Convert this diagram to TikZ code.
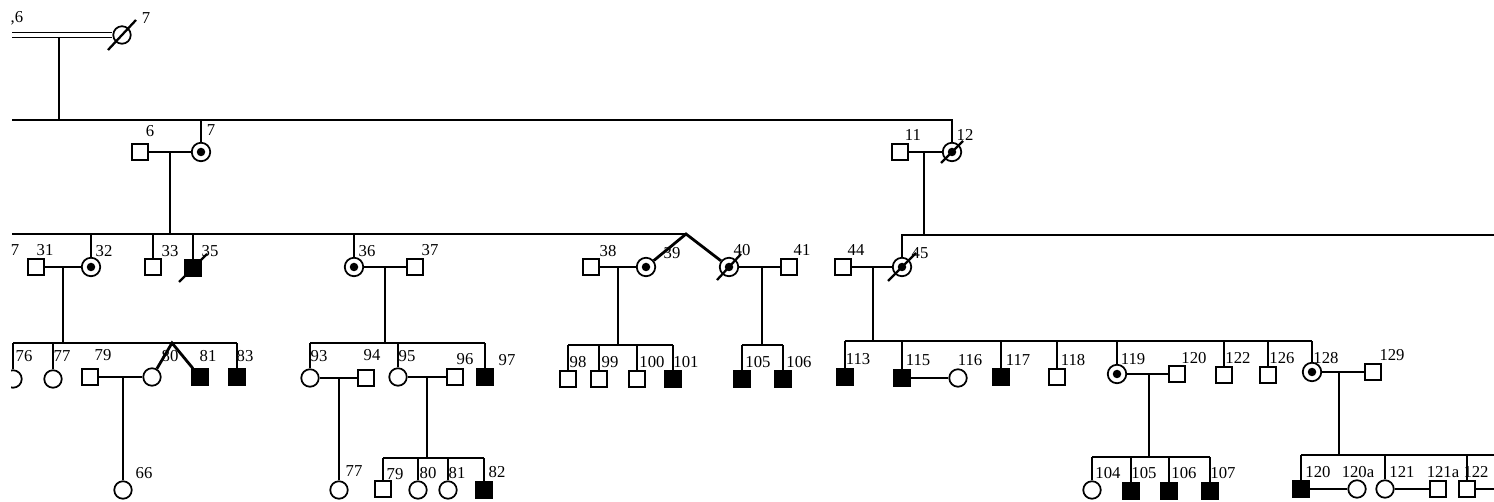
\documentclass[tikz,border=0pt]{standalone}
\usepackage{fontspec}
\setmainfont{Liberation Serif}
\begin{document}
\begin{tikzpicture}[x=0.02cm,y=-0.02cm,line width=1.1pt,
    male/.style={draw,line width=1pt,minimum size=0.31cm,inner sep=0pt,fill=white},
    female/.style={draw,circle,line width=1pt,minimum size=0.35cm,inner sep=0pt,fill=white},
    affected/.style={fill=black},
    carrier/.style={minimum size=0.37cm,path picture={\fill[black] (path picture bounding box.center) circle (0.085cm);}},
    lbl/.style={font=\fontsize{9.5}{10}\selectfont,inner sep=0pt},
    slash/.style={line width=1.3pt},
    twin/.style={line width=1.6pt}]
  \useasboundingbox (0,0) rectangle (1494,502);
  \clip (11,0) rectangle (1494,502);
  % generation I
  \node[female] (g1p7) at (122,35) {};
  \draw[slash] (g1p7.center) ++(-14,15) -- ++(28,-30);
  \node[lbl] (t1p6) at (17,18) {,6};
  \node[lbl] (t1p7) at (146,18) {7};
  \coordinate (g1left) at (12,35);
  \draw[double,double distance=2.2pt,line width=0.8pt] (g1left) -- (g1p7);
  \coordinate (g1drop) at (59,37);
  \coordinate (g2sib) at (12,120);
  \draw (g1drop) -- (g1drop |- g2sib);
  % generation II
  \node[male] (g2p6) at (140,152) {};
  \node[female,carrier] (g2p7) at (201,152) {};
  \node[male] (g2p11) at (900,152) {};
  \node[female,carrier] (g2p12) at (952,152) {};
  \draw[slash] (g2p12.center) ++(-11,11) -- ++(22,-22);
  \node[lbl] (t2p6) at (150,131) {6};
  \node[lbl] (t2p7) at (211,130) {7};
  \node[lbl] (t2p11) at (913,135) {11};
  \node[lbl] (t2p12) at (965,135) {12};
  \draw (g2sib) -- (g2sib -| g2p12) -- (g2p12.north);
  \draw (g2p7.north) -- (g2p7.north |- g2sib);
  \draw (g2p6) -- (g2p7);
  \draw (g2p11) -- (g2p12);
  \coordinate (g2m6) at (170,152);
  \coordinate (g2m11) at (924,152);
  \coordinate (g3sibA) at (12,234);
  \coordinate (g3twin) at (686,234);
  \coordinate (g3sibB) at (1494,235);
  \draw (g2m6) -- (g2m6 |- g3sibA);
  \draw (g2m11) -- (g2m11 |- g3sibB);
  % generation III
  \node[male] (g3p31) at (36,267) {};
  \node[female,carrier] (g3p32) at (91,267) {};
  \node[male] (g3p33) at (153,267) {};
  \node[male,affected] (g3p35) at (193,268) {};
  \draw[slash] (g3p35.center) ++(-14,14) -- ++(28,-28);
  \node[female,carrier] (g3p36) at (354,267) {};
  \node[male] (g3p37) at (415,267) {};
  \node[male] (g3p38) at (591,267) {};
  \node[female,carrier] (g3p39) at (646,267) {};
  \node[female,carrier] (g3p40) at (729,267) {};
  \draw[slash] (g3p40.center) ++(-12,13) -- ++(24,-26);
  \node[male] (g3p41) at (789,267) {};
  \node[male] (g3p44) at (843,267) {};
  \node[female,carrier] (g3p45) at (902,267) {};
  \draw[slash] (g3p45.center) ++(-14,14) -- ++(28,-28);
  \node[lbl] (t3p27) at (15,250) {7};
  \node[lbl] (t3p31) at (45,250) {31};
  \node[lbl] (t3p32) at (104,251) {32};
  \node[lbl] (t3p33) at (170,251) {33};
  \node[lbl] (t3p35) at (210,251) {35};
  \node[lbl] (t3p36) at (367,251) {36};
  \node[lbl] (t3p37) at (430,250) {37};
  \node[lbl] (t3p38) at (608,251) {38};
  \node[lbl] (t3p39) at (672,253) {39};
  \node[lbl] (t3p40) at (742,250) {40};
  \node[lbl] (t3p41) at (802,250) {41};
  \node[lbl] (t3p44) at (856,250) {44};
  \node[lbl] (t3p45) at (920,253) {45};
  \draw (g3sibA) -- (g3twin);
  \draw[twin] (g3p39) -- (g3twin) -- (g3p40);
  \draw (g3p45.north) -- (g3p45.north |- g3sibB) -- (g3sibB);
  \draw (g3p32.north) -- (g3p32.north |- g3sibA);
  \draw (g3p33.north) -- (g3p33.north |- g3sibA);
  \draw (g3p35.north) -- (g3p35.north |- g3sibA);
  \draw (g3p36.north) -- (g3p36.north |- g3sibA);
  \draw (g3p31) -- (g3p32);
  \draw (g3p36) -- (g3p37);
  \draw (g3p38) -- (g3p39);
  \draw (g3p40) -- (g3p41);
  \draw (g3p44) -- (g3p45);
  \coordinate (g3m31) at (63,267);
  \coordinate (g3m36) at (385,267);
  \coordinate (g3m38) at (618,267);
  \coordinate (g3m40) at (762,267);
  \coordinate (g3m44) at (873,267);
  \coordinate (g4sibA) at (13,343);
  \coordinate (g4twin) at (172,343);
  \coordinate (g4sibB) at (310,343);
  \coordinate (g4sibC) at (568,345);
  \coordinate (g4sibD) at (742,345);
  \coordinate (g4sibE) at (845,341);
  \draw (g3m31) -- (g3m31 |- g4sibA);
  \draw (g3m36) -- (g3m36 |- g4sibB);
  \draw (g3m38) -- (g3m38 |- g4sibC);
  \draw (g3m40) -- (g3m40 |- g4sibD);
  \draw (g3m44) -- (g3m44 |- g4sibE);
  % generation IV
  \node[female] (g4p76) at (13,379) {};
  \node[female] (g4p77) at (53,379) {};
  \node[male] (g4p79) at (90,377) {};
  \node[female] (g4p80) at (152,377) {};
  \node[male,affected] (g4p81) at (200,377) {};
  \node[male,affected] (g4p83) at (237,377) {};
  \node[female] (g4p93) at (310,378) {};
  \node[male] (g4p94) at (366,378) {};
  \node[female] (g4p95) at (398,377) {};
  \node[male] (g4p96) at (455,377) {};
  \node[male,affected] (g4p97) at (485,377) {};
  \node[male] (g4p98) at (568,379) {};
  \node[male] (g4p99) at (599,379) {};
  \node[male] (g4p100) at (637,379) {};
  \node[male,affected] (g4p101) at (673,379) {};
  \node[male,affected] (g4p105) at (742,379) {};
  \node[male,affected] (g4p106) at (783,379) {};
  \node[male,affected] (g4p113) at (845,377) {};
  \node[male,affected] (g4p115) at (902,378) {};
  \node[female] (g4p116) at (958,378) {};
  \node[male,affected] (g4p117) at (1001,377) {};
  \node[male] (g4p118) at (1057,377) {};
  \node[female,carrier] (g4p119) at (1117,374) {};
  \node[male] (g4p120) at (1177,374) {};
  \node[male] (g4p122) at (1224,375) {};
  \node[male] (g4p126) at (1268,375) {};
  \node[female,carrier] (g4p128) at (1312,372) {};
  \node[male] (g4p129) at (1373,372) {};
  \node[lbl] (t4p76) at (24,356) {76};
  \node[lbl] (t4p77) at (62,356) {77};
  \node[lbl] (t4p79) at (103,355) {79};
  \node[lbl] (t4p80) at (170,356) {80};
  \node[lbl] (t4p81) at (208,356) {81};
  \node[lbl] (t4p83) at (245,356) {83};
  \node[lbl] (t4p93) at (319,356) {93};
  \node[lbl] (t4p94) at (372,355) {94};
  \node[lbl] (t4p95) at (407,356) {95};
  \node[lbl] (t4p96) at (465,359) {96};
  \node[lbl] (t4p97) at (507,360) {97};
  \node[lbl] (t4p98) at (578,362) {98};
  \node[lbl] (t4p99) at (610,362) {99};
  \node[lbl] (t4p100) at (652,362) {100};
  \node[lbl] (t4p101) at (686,362) {101};
  \node[lbl] (t4p105) at (758,362) {105};
  \node[lbl] (t4p106) at (799,362) {106};
  \node[lbl] (t4p113) at (858,359) {113};
  \node[lbl] (t4p115) at (918,360) {115};
  \node[lbl] (t4p116) at (970,360) {116};
  \node[lbl] (t4p117) at (1018,360) {117};
  \node[lbl] (t4p118) at (1073,360) {118};
  \node[lbl] (t4p119) at (1133,359) {119};
  \node[lbl] (t4p120) at (1194,358) {120};
  \node[lbl] (t4p122) at (1238,358) {122};
  \node[lbl] (t4p126) at (1282,358) {126};
  \node[lbl] (t4p128) at (1326,358) {128};
  \node[lbl] (t4p129) at (1392,355) {129};
  \draw (g4sibA) -- (g4sibA -| g4p83);
  \draw[twin] (g4p80) -- (g4twin) -- (g4p81);
  \draw (g4p76.north) -- (g4p76.north |- g4sibA);
  \draw (g4p77.north) -- (g4p77.north |- g4sibA);
  \draw (g4p83.north) -- (g4p83.north |- g4sibA);
  \draw (g4sibB) -- (g4sibB -| g4p97);
  \draw (g4p93.north) -- (g4p93.north |- g4sibB);
  \draw (g4p95.north) -- (g4p95.north |- g4sibB);
  \draw (g4p97.north) -- (g4p97.north |- g4sibB);
  \draw (g4sibC) -- (g4sibC -| g4p101);
  \draw (g4p98.north) -- (g4p98.north |- g4sibC);
  \draw (g4p99.north) -- (g4p99.north |- g4sibC);
  \draw (g4p100.north) -- (g4p100.north |- g4sibC);
  \draw (g4p101.north) -- (g4p101.north |- g4sibC);
  \draw (g4sibD) -- (g4sibD -| g4p106);
  \draw (g4p105.north) -- (g4p105.north |- g4sibD);
  \draw (g4p106.north) -- (g4p106.north |- g4sibD);
  \draw (g4sibE) -- (g4sibE -| g4p128);
  \draw (g4p113.north) -- (g4p113.north |- g4sibE);
  \draw (g4p115.north) -- (g4p115.north |- g4sibE);
  \draw (g4p117.north) -- (g4p117.north |- g4sibE);
  \draw (g4p118.north) -- (g4p118.north |- g4sibE);
  \draw (g4p119.north) -- (g4p119.north |- g4sibE);
  \draw (g4p122.north) -- (g4p122.north |- g4sibE);
  \draw (g4p126.north) -- (g4p126.north |- g4sibE);
  \draw (g4p128.north) -- (g4p128.north |- g4sibE);
  \draw (g4p79) -- (g4p80);
  \draw (g4p93) -- (g4p94);
  \draw (g4p95) -- (g4p96);
  \draw (g4p115) -- (g4p116);
  \draw (g4p119) -- (g4p120);
  \draw (g4p128) -- (g4p129);
  \coordinate (g4m79) at (123,377);
  \coordinate (g4m93) at (339,378);
  \coordinate (g4m95) at (427,377);
  \coordinate (g4m119) at (1149,374);
  \coordinate (g4m128) at (1339,372);
  \coordinate (g5sibB) at (383,458);
  \coordinate (g5sibF) at (1092,457);
  \coordinate (g5sibG) at (1301,455);
  \coordinate (g5sibGend) at (1494,455);
  \draw (g4m95) -- (g4m95 |- g5sibB);
  \draw (g4m119) -- (g4m119 |- g5sibF);
  \draw (g4m128) -- (g4m128 |- g5sibG);
  % generation V
  \node[female] (g5p66) at (123,490) {};
  \node[female] (g5p77) at (339,490) {};
  \node[male] (g5p79) at (383,489) {};
  \node[female] (g5p80) at (418,490) {};
  \node[female] (g5p81) at (448,490) {};
  \node[male,affected] (g5p82) at (484,490) {};
  \node[female] (g5p104) at (1092,490) {};
  \node[male,affected] (g5p105) at (1131,491) {};
  \node[male,affected] (g5p106) at (1169,491) {};
  \node[male,affected] (g5p107) at (1210,491) {};
  \node[male,affected] (g5p120) at (1301,489) {};
  \node[female] (g5p120a) at (1357,489) {};
  \node[female] (g5p121) at (1385,489) {};
  \node[male] (g5p121a) at (1438,489) {};
  \node[male] (g5p122) at (1467,489) {};
  \coordinate (g5edge) at (1494,489);
  \node[lbl] (t5p66) at (144,473) {66};
  \node[lbl] (t5p77) at (354,471) {77};
  \node[lbl] (t5p79) at (395,474) {79};
  \node[lbl] (t5p80) at (428,473) {80};
  \node[lbl] (t5p81) at (457,473) {81};
  \node[lbl] (t5p82) at (497,472) {82};
  \node[lbl] (t5p104) at (1108,473) {104};
  \node[lbl] (t5p105) at (1144,473) {105};
  \node[lbl] (t5p106) at (1184,473) {106};
  \node[lbl] (t5p107) at (1223,473) {107};
  \node[lbl] (t5p120) at (1318,472) {120};
  \node[lbl] (t5p120a) at (1358,472) {120a};
  \node[lbl] (t5p121) at (1402,472) {121};
  \node[lbl] (t5p121a) at (1443,472) {121a};
  \node[lbl] (t5p122) at (1476,472) {122};
  \draw (g4m79) -- (g5p66);
  \draw (g4m93) -- (g5p77);
  \draw (g5sibB) -- (g5sibB -| g5p82);
  \draw (g5p79.north) -- (g5p79.north |- g5sibB);
  \draw (g5p80.north) -- (g5p80.north |- g5sibB);
  \draw (g5p81.north) -- (g5p81.north |- g5sibB);
  \draw (g5p82.north) -- (g5p82.north |- g5sibB);
  \draw (g5sibF) -- (g5sibF -| g5p107);
  \draw (g5p104.north) -- (g5p104.north |- g5sibF);
  \draw (g5p105.north) -- (g5p105.north |- g5sibF);
  \draw (g5p106.north) -- (g5p106.north |- g5sibF);
  \draw (g5p107.north) -- (g5p107.north |- g5sibF);
  \draw (g5sibG) -- (g5sibGend);
  \draw (g5p120.north) -- (g5p120.north |- g5sibG);
  \draw (g5p121.north) -- (g5p121.north |- g5sibG);
  \draw (g5p122.north) -- (g5p122.north |- g5sibG);
  \draw (g5p120) -- (g5p120a);
  \draw (g5p121) -- (g5p121a);
  \draw (g5p122) -- (g5edge);
\end{tikzpicture}
\end{document}
